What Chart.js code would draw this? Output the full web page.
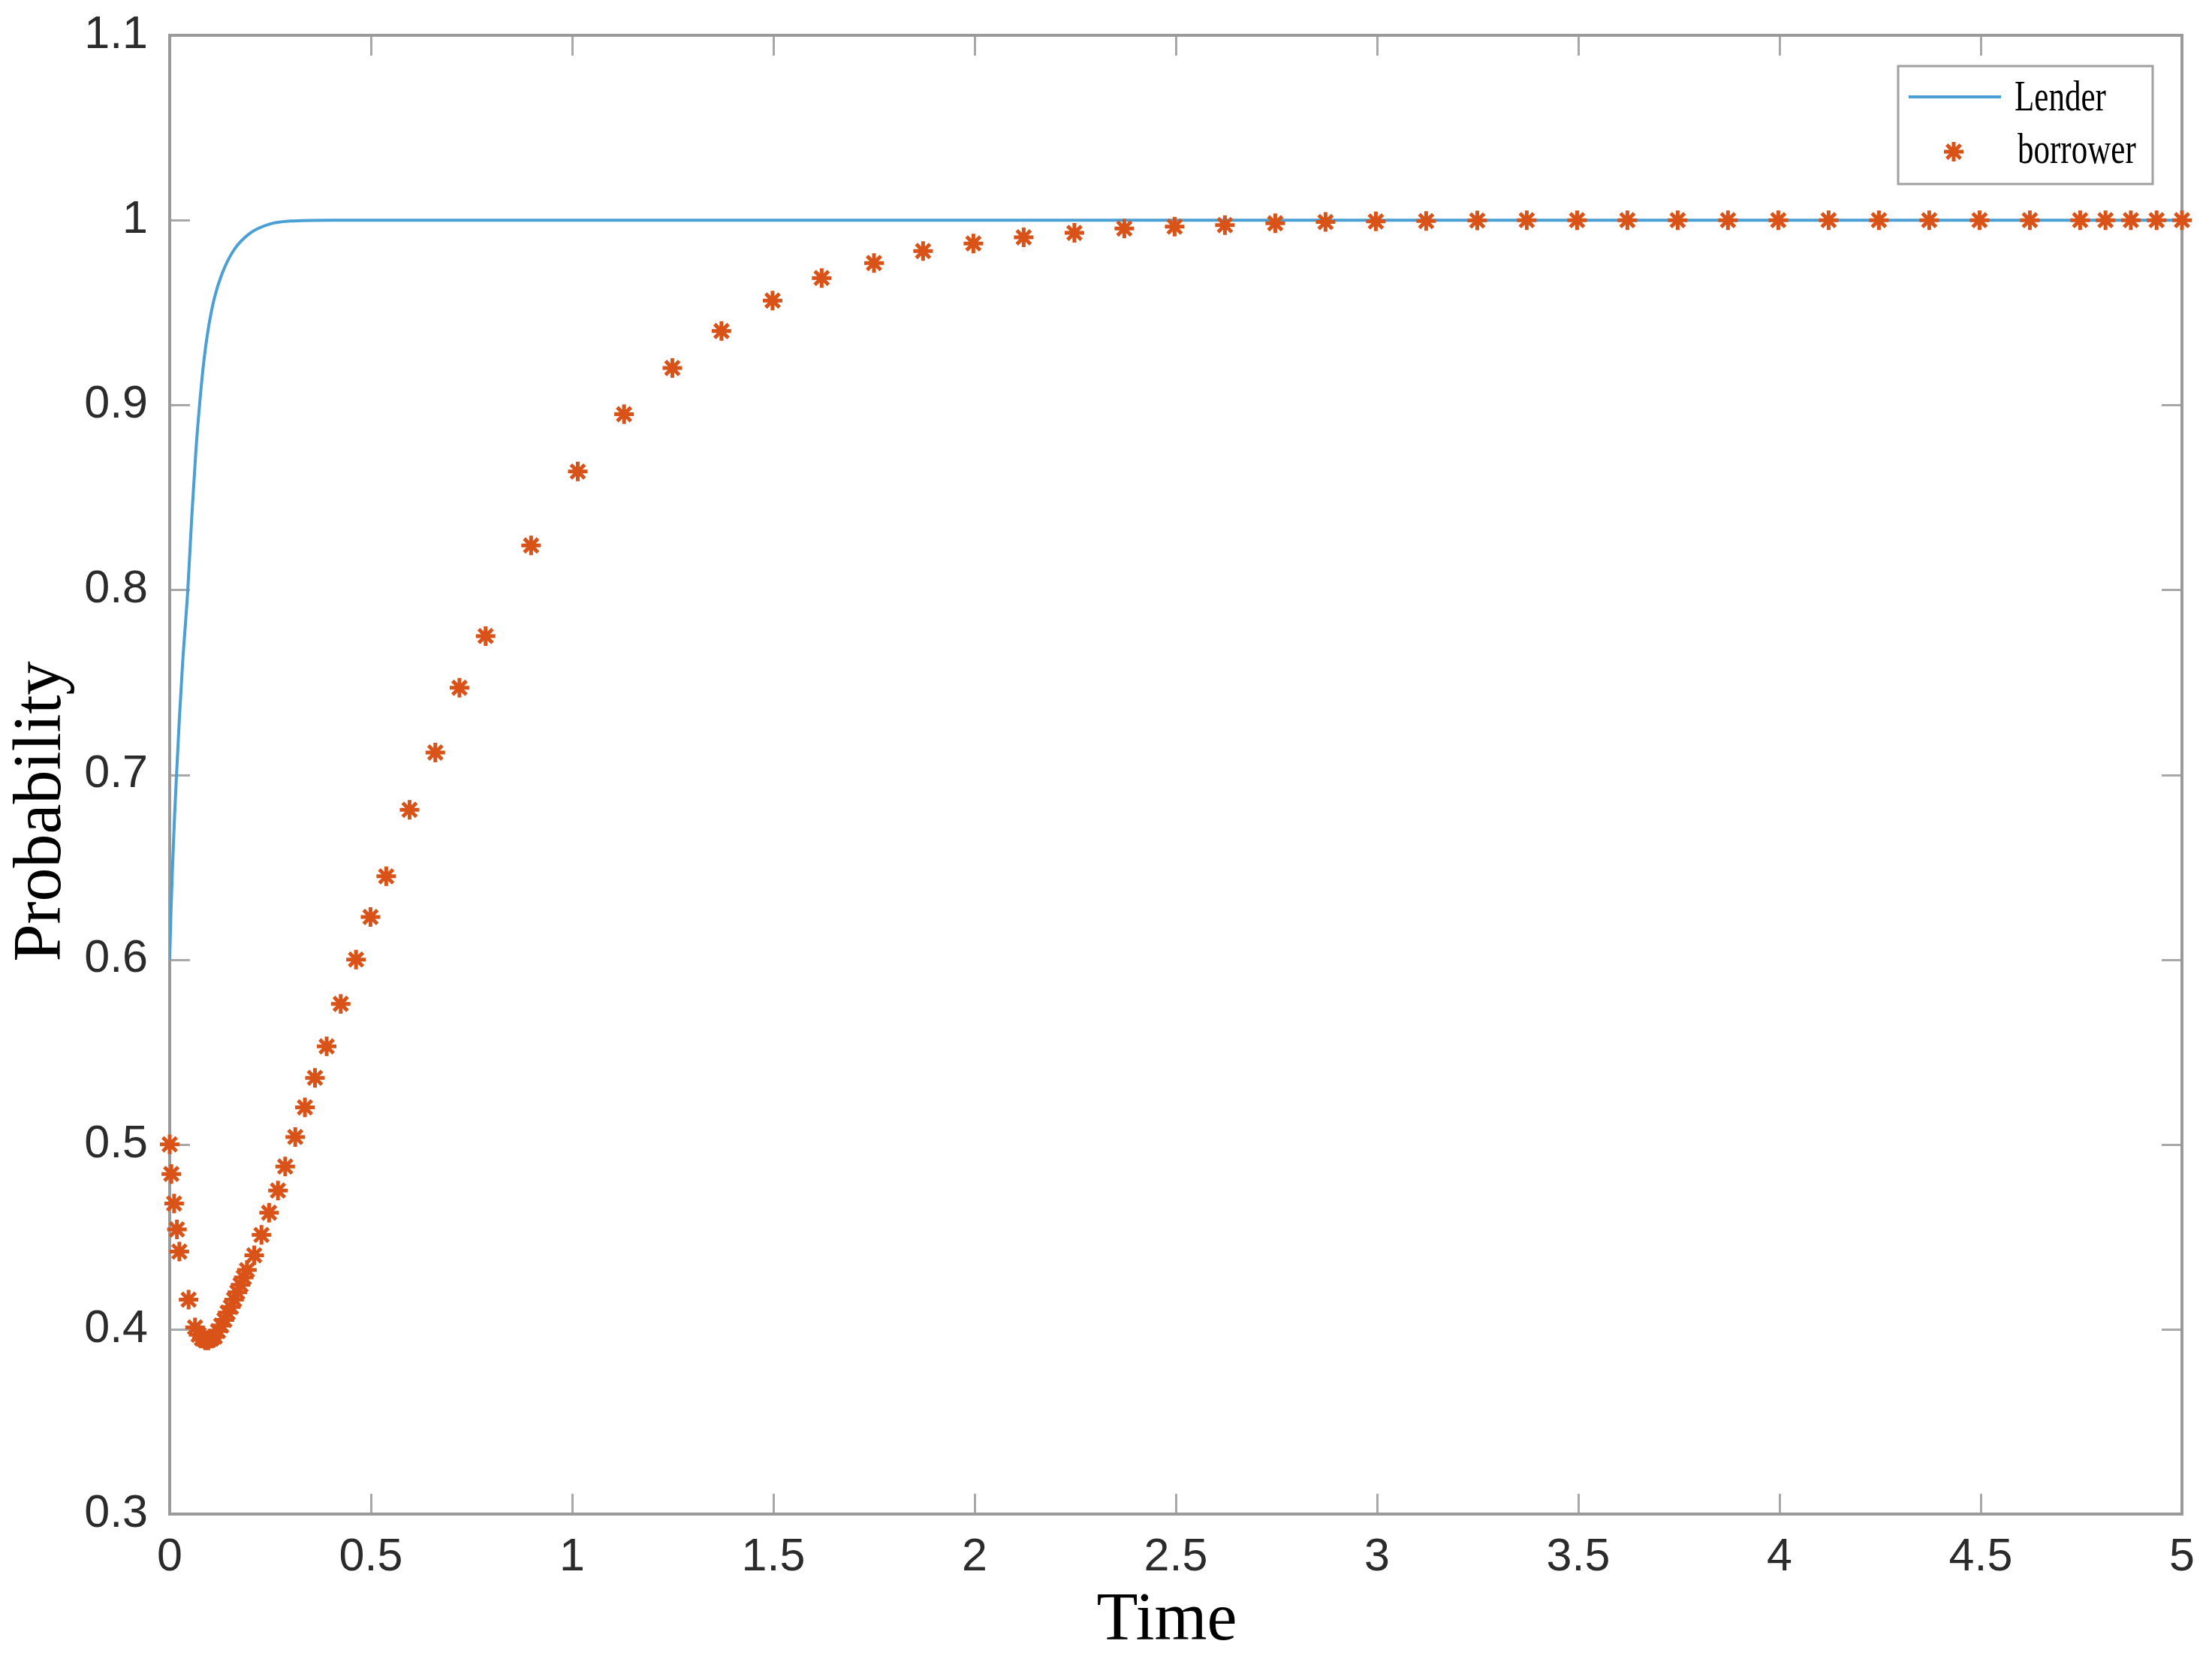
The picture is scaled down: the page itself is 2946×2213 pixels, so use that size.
<!DOCTYPE html>
<html>
<head>
<meta charset="utf-8">
<script src="https://cdn.jsdelivr.net/npm/chart.js@4/dist/chart.umd.min.js"></script>
<style>
html,body{margin:0;padding:0;background:#ffffff;}
#wrap{width:2946px;height:2213px;position:relative;background:#ffffff;}
</style>
</head>
<body>
<div id="wrap"><canvas id="c" width="2946" height="2213"></canvas></div>
<script>
// ---------------- data ----------------
const seriesNames = ['Lender', 'borrower'];
const axisTitles = { x: 'Time', y: 'Probability' };

const lenderTime = [0, 0.003, 0.007, 0.012, 0.017, 0.024, 0.032, 0.045, 0.055, 0.065, 0.075, 0.085, 0.095, 0.11, 0.13, 0.16, 0.2, 0.25, 0.3, 0.4, 1, 2, 3, 4, 5];
const lenderProb = [0.600, 0.625, 0.650, 0.677, 0.700, 0.730, 0.760, 0.800, 0.840, 0.875, 0.902, 0.924, 0.940, 0.957, 0.971, 0.984, 0.993, 0.998, 0.9995, 1, 1, 1, 1, 1, 1];

const borrowerTime = [0, 0.004, 0.011, 0.018, 0.024, 0.047, 0.063,
  0.072, 0.080, 0.088, 0.096, 0.104, 0.112, 0.120, 0.128, 0.136, 0.144, 0.152, 0.160, 0.168, 0.176, 0.184, 0.192,
  0.210, 0.228, 0.247, 0.269, 0.287, 0.312,
  0.336, 0.361, 0.390, 0.425, 0.463, 0.499,
  0.538, 0.596, 0.660, 0.720, 0.785,
  0.898, 1.014, 1.129, 1.249, 1.371,
  1.498, 1.620, 1.750, 1.872, 1.997, 2.122, 2.248, 2.372, 2.497, 2.622, 2.747, 2.872, 2.997, 3.122, 3.249,
  3.372, 3.497, 3.622, 3.747, 3.872, 3.997, 4.122, 4.247, 4.372, 4.497, 4.622, 4.747,
  4.810, 4.873, 4.937, 5.0];
const borrowerProb = [0.500, 0.484, 0.468, 0.454, 0.442, 0.416, 0.401,
  0.397, 0.395, 0.394, 0.394, 0.395, 0.396, 0.399, 0.402, 0.405, 0.409, 0.412, 0.416, 0.420, 0.424, 0.428, 0.432,
  0.440, 0.451, 0.463, 0.475, 0.488, 0.504,
  0.520, 0.536, 0.553, 0.576, 0.600, 0.623,
  0.645, 0.681, 0.712, 0.747, 0.775,
  0.824, 0.864, 0.895, 0.920, 0.940,
  0.9565, 0.9687, 0.9768, 0.9833, 0.9874, 0.9907, 0.9931, 0.9955, 0.9965, 0.9973, 0.9983, 0.9990, 0.9993, 0.9995, 0.9998,
  1, 1, 1, 1, 1, 1, 1, 1, 1, 1, 1, 1,
  1, 1, 1, 1];

const xTicks = [0, 0.5, 1, 1.5, 2, 2.5, 3, 3.5, 4, 4.5, 5];
const xTickLabels = ['0', '0.5', '1', '1.5', '2', '2.5', '3', '3.5', '4', '4.5', '5'];
const yTicks = [0.3, 0.4, 0.5, 0.6, 0.7, 0.8, 0.9, 1.0, 1.1];
const yTickLabels = ['0.3', '0.4', '0.5', '0.6', '0.7', '0.8', '0.9', '1', '1.1'];

// ---------------- styles ----------------
const LENDER_COLOR = '#4a9fd4';
const BORROWER_COLOR = '#d95319';
const AXIS_COLOR = '#9a9a9a';
const TICK_COLOR = '#a8a8a8';
const LABEL_COLOR = '#2b2b2b';
const TICK_FONT = { family: '"Liberation Sans", Arial, Helvetica, sans-serif', size: 61 };
const TITLE_FONT = { family: '"Liberation Serif", "Times New Roman", serif', size: 90 };
const Y_TITLE_SHIFT = 49;   // the y-axis title sits a little below the plot's centre
const X_TITLE_SHIFT = -12;

function toPoints(xs, ys) { return xs.map((x, i) => ({ x: x, y: ys[i] })); }

function labelFor(values, labels, v) {
  const i = values.findIndex(t => Math.abs(t - v) < 1e-9);
  return i >= 0 ? labels[i] : '';
}

// shift the library-drawn axis titles slightly, as in the original figure
const titleShiftPlugin = {
  id: 'titleShift',
  afterLayout(chart) {
    [['y', 0, Y_TITLE_SHIFT], ['x', X_TITLE_SHIFT, 0]].forEach(([id, dx, dy]) => {
      const s = chart.scales[id];
      if (s && !s.__shifted) {
        const orig = s.drawTitle.bind(s);
        s.drawTitle = function () {
          const ctx = this.ctx;
          ctx.save();
          ctx.translate(dx, dy);
          orig();
          ctx.restore();
        };
        s.__shifted = true;
      }
    });
  }
};

// Box + inward tick marks on all four sides (MATLAB style)
const boxPlugin = {
  id: 'boxPlugin',
  beforeDatasetsDraw(chart) {
    const { ctx, chartArea: a, scales } = chart;
    const L = 27;
    ctx.save();
    ctx.strokeStyle = TICK_COLOR;
    ctx.lineWidth = 3;
    ctx.beginPath();
    xTicks.forEach(v => {
      const px = Math.round(scales.x.getPixelForValue(v)) + 0.5;
      ctx.moveTo(px, a.bottom); ctx.lineTo(px, a.bottom - L);
      ctx.moveTo(px, a.top); ctx.lineTo(px, a.top + L);
    });
    yTicks.forEach(v => {
      const py = Math.round(scales.y.getPixelForValue(v)) + 0.5;
      ctx.moveTo(a.left, py); ctx.lineTo(a.left + L, py);
      ctx.moveTo(a.right, py); ctx.lineTo(a.right - L, py);
    });
    ctx.stroke();
    ctx.strokeStyle = AXIS_COLOR;
    ctx.lineWidth = 4;
    ctx.strokeRect(a.left, a.top, a.right - a.left, a.bottom - a.top);
    ctx.restore();
  }
};

// Legend box inside top-right corner
const legendPlugin = {
  id: 'boxLegend',
  afterDraw(chart) {
    const { ctx, chartArea: a } = chart;
    const w = 339, h = 157;
    const x0 = a.right - 39 - w, y0 = a.top + 41;
    ctx.save();
    ctx.fillStyle = '#ffffff';
    ctx.fillRect(x0, y0, w, h);
    ctx.strokeStyle = '#a0a0a0';
    ctx.lineWidth = 3;
    ctx.strokeRect(x0, y0, w, h);

    const ds = chart.data.datasets;
    const lender = ds.find(d => d.label === seriesNames[0]);
    const borrower = ds.find(d => d.label === seriesNames[1]);

    // line sample
    ctx.strokeStyle = lender.borderColor;
    ctx.lineWidth = lender.borderWidth;
    ctx.beginPath();
    ctx.moveTo(x0 + 14, y0 + 41);
    ctx.lineTo(x0 + 137, y0 + 41);
    ctx.stroke();

    // marker sample (asterisk)
    ctx.strokeStyle = borrower.pointBorderColor;
    ctx.lineWidth = borrower.pointBorderWidth;
    ctx.beginPath();
    const r = borrower.pointRadius;
    const cx = x0 + 74, cy = y0 + 114;
    for (let k = 0; k < 4; k++) {
      const ang = k * Math.PI / 4;
      ctx.moveTo(cx - Math.cos(ang) * r, cy - Math.sin(ang) * r);
      ctx.lineTo(cx + Math.cos(ang) * r, cy + Math.sin(ang) * r);
    }
    ctx.stroke();

    ctx.fillStyle = '#000000';
    ctx.font = '57px "Liberation Serif", "Times New Roman", serif';
    ctx.textBaseline = 'alphabetic';
    ctx.textAlign = 'left';
    [[seriesNames[0], x0 + 155, y0 + 59], [seriesNames[1], x0 + 159, y0 + 129]].forEach(([t, tx, ty]) => {
      ctx.save();
      ctx.translate(tx, ty);
      ctx.scale(0.755, 1);
      ctx.fillText(t, 0, 0);
      ctx.restore();
    });
    ctx.restore();
  }
};

const chart = new Chart(document.getElementById('c'), {
  type: 'scatter',
  data: {
    datasets: [
      {
        label: seriesNames[1],
        data: toPoints(borrowerTime, borrowerProb),
        showLine: false,
        pointStyle: 'star',
        pointRadius: 13,
        pointBorderWidth: 5,
        pointBorderColor: BORROWER_COLOR,
        pointBackgroundColor: BORROWER_COLOR,
        borderColor: BORROWER_COLOR,
        pointHoverRadius: 13,
        clip: false,
        order: 0
      },
      {
        label: seriesNames[0],
        data: toPoints(lenderTime, lenderProb),
        showLine: true,
        borderColor: LENDER_COLOR,
        borderWidth: 4,
        pointRadius: 0,
        pointHoverRadius: 0,
        cubicInterpolationMode: 'monotone',
        fill: false,
        order: 1
      }
    ]
  },
  options: {
    responsive: false,
    animation: false,
    devicePixelRatio: 1,
    layout: { padding: { top: 47, right: 40, left: 0, bottom: 0 } },
    plugins: {
      legend: { display: false },
      tooltip: { enabled: false }
    },
    scales: {
      x: {
        type: 'linear',
        min: 0, max: 5,
        afterBuildTicks(s) { s.ticks = xTicks.map(v => ({ value: v })); },
        afterFit(s) { s.height = 197; s.paddingLeft = 0; s.paddingRight = 0; },
        grid: { display: false, drawTicks: false },
        border: { display: false },
        ticks: {
          padding: 22,
          color: LABEL_COLOR,
          font: TICK_FONT,
          maxRotation: 0,
          autoSkip: false,
          callback: v => labelFor(xTicks, xTickLabels, v)
        },
        title: {
          display: true,
          text: axisTitles.x,
          color: '#000000',
          font: TITLE_FONT,
          padding: { top: 0, bottom: 0 }
        }
      },
      y: {
        type: 'linear',
        min: 0.3, max: 1.1,
        afterBuildTicks(s) { s.ticks = yTicks.map(v => ({ value: v })); },
        afterFit(s) { s.width = 226; s.paddingTop = 0; s.paddingBottom = 0; },
        grid: { display: false, drawTicks: false },
        border: { display: false },
        ticks: {
          padding: 29,
          color: LABEL_COLOR,
          font: TICK_FONT,
          autoSkip: false,
          callback: v => labelFor(yTicks, yTickLabels, v)
        },
        title: {
          display: true,
          text: axisTitles.y,
          color: '#000000',
          font: TITLE_FONT,
          padding: { top: 2, bottom: 0 }
        }
      }
    }
  },
  plugins: [titleShiftPlugin, boxPlugin, legendPlugin]
});
</script>
</body>
</html>
